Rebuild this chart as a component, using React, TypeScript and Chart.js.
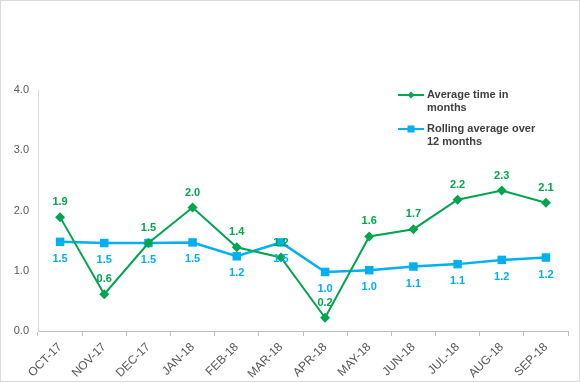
import React, { useEffect, useRef } from "react";
import { Chart, registerables } from "chart.js";

Chart.register(...registerables);

const categories = ["OCT-17", "NOV-17", "DEC-17", "JAN-18", "FEB-18", "MAR-18", "APR-18", "MAY-18", "JUN-18", "JUL-18", "AUG-18", "SEP-18"];
const averageTime = [1.89, 0.61, 1.46, 2.05, 1.39, 1.22, 0.22, 1.57, 1.69, 2.18, 2.33, 2.13];
const rollingAverage = [1.48, 1.46, 1.46, 1.47, 1.24, 1.47, 0.98, 1.01, 1.07, 1.11, 1.18, 1.22];
const seriesNames = [["Average time in", "months"], ["Rolling average over", "12 months"]];

const GREEN = "#00A54F";
const BLUE = "#00B0F0";
const FONT = "'Liberation Sans', Arial, sans-serif";

const labelPlugin = {
  id: "valueLabels",
  afterDatasetsDraw(chart: any) {
    const ctx = chart.ctx;
    ctx.save();
    ctx.font = `bold 11px ${FONT}`;
    ctx.textAlign = "center";
    ctx.textBaseline = "middle";
    chart.data.datasets.forEach((ds: any, i: number) => {
      const meta = chart.getDatasetMeta(i);
      ctx.fillStyle = ds.borderColor;
      meta.data.forEach((pt: any, j: number) => {
        const v = ds.data[j] as number;
        const off = i === 0 ? -15 : 17;
        ctx.fillText(v.toFixed(1), pt.x, pt.y + off);
      });
    });
    ctx.restore();
  },
};

const legendPlugin = {
  id: "customLegend",
  afterDraw(chart: any) {
    const ctx = chart.ctx;
    ctx.save();
    const x0 = 398, x1 = 424, tx = 427;
    const rows = [95, 129];
    chart.data.datasets.forEach((ds: any, i: number) => {
      const y = rows[i];
      ctx.strokeStyle = ds.borderColor;
      ctx.fillStyle = ds.borderColor;
      ctx.lineWidth = 2;
      ctx.beginPath();
      ctx.moveTo(x0, y);
      ctx.lineTo(x1, y);
      ctx.stroke();
      const cx = (x0 + x1) / 2;
      if (i === 0) {
        ctx.beginPath();
        ctx.moveTo(cx, y - 3.5);
        ctx.lineTo(cx + 3.5, y);
        ctx.lineTo(cx, y + 3.5);
        ctx.lineTo(cx - 3.5, y);
        ctx.closePath();
        ctx.fill();
      } else {
        ctx.fillRect(cx - 3.5, y - 3.5, 7, 7);
      }
      ctx.fillStyle = "#404040";
      ctx.font = `bold 11px ${FONT}`;
      ctx.textAlign = "left";
      ctx.textBaseline = "middle";
      const lines = seriesNames[i];
      lines.forEach((t, k) => ctx.fillText(t, tx, y + k * 13));
    });
    ctx.restore();
  },
};

export default function App() {
  const ref = useRef<HTMLCanvasElement>(null);
  useEffect(() => {
    document.body.style.margin = "0";
    const chart = new Chart(ref.current!, {
      type: "line",
      data: {
        labels: categories,
        datasets: [
          {
            label: seriesNames[0].join(" "),
            data: averageTime,
            borderColor: GREEN,
            backgroundColor: GREEN,
            borderWidth: 2,
            pointStyle: "rectRot",
            pointRadius: 5,
            pointBorderWidth: 0,
            tension: 0,
          },
          {
            label: seriesNames[1].join(" "),
            data: rollingAverage,
            borderColor: BLUE,
            backgroundColor: BLUE,
            borderWidth: 2.5,
            pointStyle: "rect",
            pointRadius: 6,
            pointBorderWidth: 0,
            tension: 0,
          },
        ],
      },
      options: {
        responsive: false,
        animation: false,
        layout: { padding: { top: 90, right: 12, left: 0, bottom: 0 } },
        plugins: { legend: { display: false }, tooltip: { enabled: false } },
        scales: {
          x: {
            offset: true,
            grid: { offset: true, drawOnChartArea: false, drawTicks: true, tickLength: 5, color: "#BFBFBF" },
            border: { display: true, color: "#BFBFBF" },
            ticks: {
              minRotation: 45,
              maxRotation: 45,
              color: "#595959",
              font: { family: FONT, size: 12 },
              padding: 4,
            },
            afterFit(scale: any) {
              scale.height = 51;
            },
          },
          y: {
            min: 0,
            max: 4,
            grid: { drawOnChartArea: false, drawTicks: false },
            border: { display: true, color: "#D9D9D9" },
            ticks: {
              stepSize: 1,
              color: "#595959",
              font: { family: FONT, size: 11 },
              padding: 9,
              callback: (v: any) => Number(v).toFixed(1),
            },
            afterFit(scale: any) {
              scale.width = 38;
            },
          },
        },
      },
      plugins: [labelPlugin, legendPlugin],
    });
    return () => chart.destroy();
  }, []);
  return (
    <div style={{ position: "relative", width: 580, height: 382 }}>
      <canvas ref={ref} width={580} height={382} style={{ position: "absolute", left: 0, top: 0 }} />
      <div style={{ position: "absolute", left: 0, top: 0, width: 580, height: 382, boxSizing: "border-box", border: "1px solid #D9D9D9", pointerEvents: "none" }} />
    </div>
  );
}
